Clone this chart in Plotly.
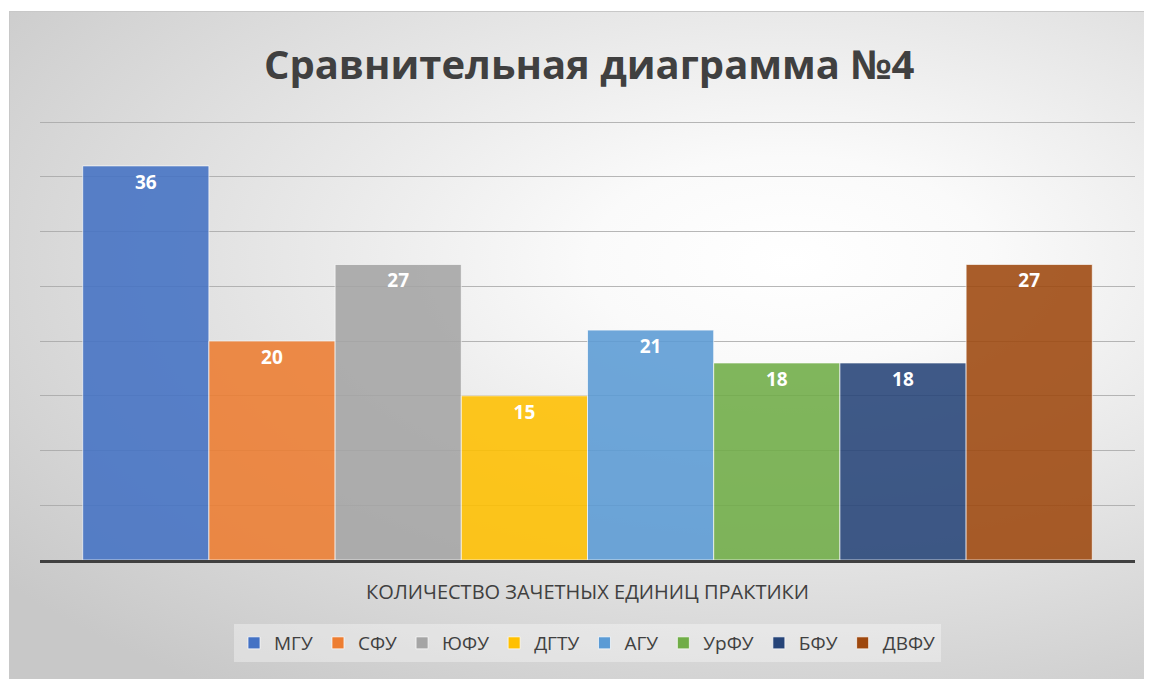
import base64
import plotly.graph_objects as go

categories = ["КОЛИЧЕСТВО ЗАЧЕТНЫХ ЕДИНИЦ ПРАКТИКИ"]
universities = ["МГУ", "СФУ", "ЮФУ", "ДГТУ", "АГУ", "УрФУ", "БФУ", "ДВФУ"]
values = [36, 20, 27, 15, 21, 18, 18, 27]
colors = ["#4472C4", "#ED7D31", "#A5A5A5", "#FFC000", "#5B9BD5", "#70AD47", "#264478", "#9E480E"]

# page has an 8px body margin, so the figure is drawn 8px smaller
W, H = 1144, 671
ml, mr, mt, mb = 32, 17, 113, 119
pw, ph = W - ml - mr, H - mt - mb

# background gradient as SVG
bx0, by0, bx1, by1 = 1, 3, W, H
bw, bh = bx1 - bx0, by1 - by0
svg = f'''<svg xmlns="http://www.w3.org/2000/svg" width="{bw}" height="{bh}" viewBox="0 0 {bw} {bh}" preserveAspectRatio="none">
<defs><radialGradient id="g" gradientUnits="userSpaceOnUse" cx="0" cy="0" r="1" gradientTransform="translate(780 250) scale(1000 520)">
<stop offset="0" stop-color="#FFFFFF"/><stop offset="0.2" stop-color="#FAFAFA"/><stop offset="1" stop-color="#C8C8C8"/>
</radialGradient></defs>
<rect x="0" y="0" width="{bw}" height="{bh}" fill="url(#g)"/>
<line x1="0.5" y1="0" x2="0.5" y2="{bh}" stroke="#C8C8C8" stroke-width="1"/>
<line x1="0" y1="0.5" x2="{bw}" y2="0.5" stroke="#C8C8C8" stroke-width="1"/>
</svg>'''
src = "data:image/svg+xml;base64," + base64.b64encode(svg.encode("utf-8")).decode()

fig = go.Figure()
for name, v, c in zip(universities, values, colors):
    fig.add_trace(go.Bar(
        name=name, x=categories, y=[v],
        marker=dict(color=c, opacity=0.88, line=dict(color="rgba(255,255,255,0.7)", width=1)),
        text=[str(v)], textposition="inside", insidetextanchor="end",
        textfont=dict(family="Open Sans", size=19, color="white", weight="bold"),
        hoverinfo="name+y",
    ))

fig.update_layout(
    width=W, height=H,
    margin=dict(l=ml, r=mr, t=mt, b=mb),
    paper_bgcolor="white",
    plot_bgcolor="rgba(0,0,0,0)",
    barmode="group", bargap=0.078, bargroupgap=0,
    title=dict(text="<b>Сравнительная диаграмма №4</b>", x=0.508, xanchor="center",
               y=1 - 57 / H, yanchor="middle", yref="container",
               font=dict(family="Open Sans", size=40, color="#404040")),
    font=dict(family="Open Sans", color="#404040"),
    legend=dict(orientation="h", x=0.5, xanchor="center", y=(0 - 83) / ph, yanchor="middle",
                bgcolor="rgba(255,255,255,0.35)", font=dict(size=19, color="#404040"),
                itemwidth=30),
    images=[dict(source=src, xref="paper", yref="paper",
                 x=(bx0 - ml) / pw, y=(H - mb - by0) / ph,
                 sizex=bw / pw, sizey=bh / ph, sizing="stretch",
                 xanchor="left", yanchor="top", layer="below")],
    showlegend=True,
)
fig.update_xaxes(range=[-0.5, 0.5], showline=True, linecolor="#404040", linewidth=3,
                 ticks="", ticklabelstandoff=12,
                 tickfont=dict(family="Open Sans", size=20, color="#404040"))
fig.update_yaxes(range=[0, 40.1], tick0=0, dtick=5, showticklabels=False, showgrid=True,
                 gridcolor="rgba(165,165,165,0.8)", gridwidth=1, zeroline=False)

fig.write_html("out.html")
